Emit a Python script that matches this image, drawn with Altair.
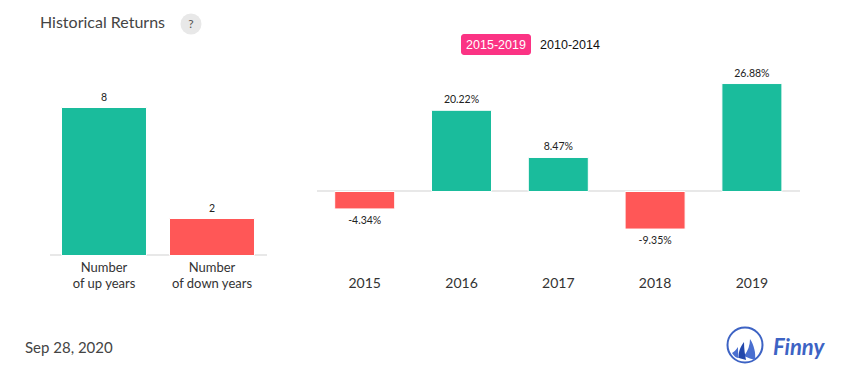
import altair as alt
import pandas as pd

up_down_labels = ["up", "down"]
up_down_counts = [8, 2]
up_down_line1 = ["Number", "Number"]
up_down_line2 = ["of up years", "of down years"]
years = ["2015", "2016", "2017", "2018", "2019"]
returns = [-4.34, 20.22, 8.47, -9.35, 26.88]
tabs = ["2015-2019", "2010-2014"]

GREEN = "#1abc9c"
RED = "#ff5757"
BLUE = "#3d63c4"
O = 8  # page margin

left = pd.DataFrame({"k": up_down_labels, "v": up_down_counts, "l1": up_down_line1, "l2": up_down_line2})
left["c"] = [GREEN if v == 8 else RED for v in up_down_counts]
right = pd.DataFrame({"y": years, "v": returns})
right["c"] = [GREEN if v >= 0 else RED for v in returns]
right["t"] = [f"{v:.2f}%" for v in returns]

lx = alt.X("k:N", sort=up_down_labels, axis=None,
           scale=alt.Scale(range=[50 - O, 266 - O], paddingInner=0.213, paddingOuter=0.1065))
ly = alt.Y("v:Q", axis=None, scale=alt.Scale(domain=[0, 8], range=[255.5 - O, 107.5 - O], nice=False))
rx = alt.X("y:N", sort=years, axis=None,
           scale=alt.Scale(range=[316.3 - O, 800.3 - O], paddingInner=0.38, paddingOuter=0.19))
ry = alt.Y("v:Q", axis=None, scale=alt.Scale(domain=[-30, 30], range=[191.5 + 120.5 - O, 191.5 - 120.5 - O], nice=False))

base_l = alt.Chart(left)
base_r = alt.Chart(right)
val = dict(font="Lato", fontSize=10.5, color="#222222")
cat = dict(font="Lato", fontSize=13, color="#333333")
yr = dict(font="Lato", fontSize=14, color="#333333")
bar = dict(stroke="#ffffff", strokeWidth=1)

left_layer = alt.layer(
    base_l.mark_rule(color="#e8e8e8", strokeWidth=2).encode(
        x=alt.value(50 - O), x2=alt.value(267 - O), y=alt.value(255 - O)),
    base_l.mark_bar(**bar).encode(x=lx, y=ly, color=alt.Color("c:N", scale=None)),
    base_l.mark_text(baseline="bottom", dy=-5, **val).encode(x=lx, y=ly, text="v:Q"),
    base_l.mark_text(baseline="middle", **cat).encode(x=lx, y=alt.value(268 - O), text="l1:N"),
    base_l.mark_text(baseline="middle", **cat).encode(x=lx, y=alt.value(284 - O), text="l2:N"),
)

right_pos = right[right.v >= 0]
right_neg = right[right.v < 0]
right_layer = alt.layer(
    base_r.mark_rule(color="#e8e8e8", strokeWidth=2).encode(
        x=alt.value(317 - O), x2=alt.value(800 - O), y=alt.value(191 - O)),
    base_r.mark_bar(**bar).encode(x=rx, y=ry, y2=alt.datum(0), color=alt.Color("c:N", scale=None)),
    alt.Chart(right_pos).mark_text(baseline="bottom", dy=-5, **val).encode(x=rx, y=ry, text="t:N"),
    alt.Chart(right_neg).mark_text(baseline="top", dy=7, **val).encode(x=rx, y=ry, text="t:N"),
    base_r.mark_text(baseline="middle", **yr).encode(x=rx, y=alt.value(284 - O), text="y:N"),
)


def note(text, x, y, **kw):
    return alt.Chart(pd.DataFrame({"t": [text]})).mark_text(**kw).encode(
        x=alt.value(x - O), y=alt.value(y - O), text="t:N")


one = pd.DataFrame({"a": [1]})
sails = [
    ("M5,-6 C9,0 11,8 10,15 C7,14 3,13 -1,11 C3,6 5,0 5,-6 Z", "#4a6fd0"),
    ("M-1,-3 C-5,2 -7,8 -6,13 C-4,14 -1,14 1,15 C0,10 -1,4 -1,-3 Z", "#2347ab"),
    ("M-7,2 C-9,5 -11,7 -13,8 C-11,11 -9,13 -6,13 C-7,9 -7,6 -7,2 Z", "#4a6fd0"),
]
decor = [
    note("Historical Returns", 40, 23, font="Lato", fontSize=16, color="#444444", align="left", baseline="middle"),
    alt.Chart(one).mark_point(filled=True, color="#e8e8e8", opacity=1, size=441, shape="circle").encode(
        x=alt.value(191 - O), y=alt.value(24 - O)),
    note("?", 191, 24, font="Lato", fontSize=12, color="#555555", baseline="middle"),
    alt.Chart(one).mark_rect(color="#fb3384", cornerRadius=3).encode(
        x=alt.value(461 - O), x2=alt.value(531 - O), y=alt.value(34 - O), y2=alt.value(55 - O)),
    note(tabs[0], 496, 45, font="Liberation Sans", fontSize=12.5, color="#ffffff", baseline="middle"),
    note(tabs[1], 570, 45, font="Liberation Sans", fontSize=12.5, color="#111111", baseline="middle"),
    note("Sep 28, 2020", 25, 348, font="Lato", fontSize=15, color="#444444", align="left", baseline="middle"),
    alt.Chart(one).mark_point(filled=False, color=BLUE, opacity=1, strokeWidth=2, size=1225, shape="circle").encode(
        x=alt.value(745 - O), y=alt.value(345 - O)),
    note("Finny", 773, 348, font="Lato", fontSize=22, fontStyle="italic", fontWeight="bold",
         color=BLUE, align="left", baseline="middle"),
]
for path, col in sails:
    decor.append(alt.Chart(one).mark_point(filled=True, color=col, opacity=1, size=4, shape=path).encode(
        x=alt.value(745 - O), y=alt.value(345 - O)))

chart = alt.layer(
    alt.layer(*decor),
    left_layer,
    right_layer,
).resolve_scale(x="independent", y="independent", color="independent").properties(
    width=839, height=358, padding=0, autosize=alt.AutoSizeParams(type="none"), background="#ffffff"
).configure_view(stroke=None)

chart.save("out.html", embed_options={"renderer": "svg", "actions": False})
